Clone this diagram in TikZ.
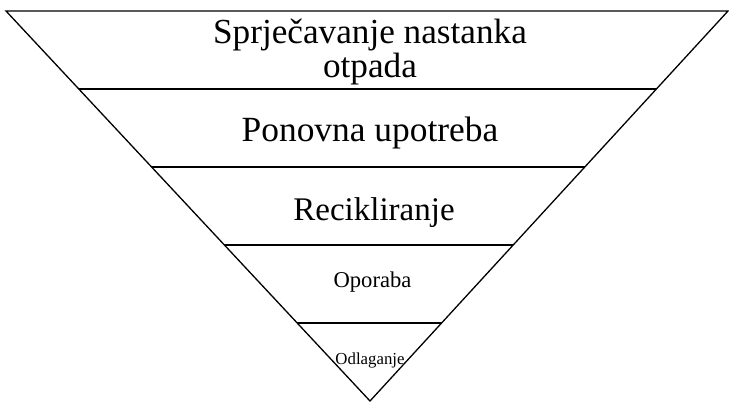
\documentclass[tikz,border=0pt]{standalone}
\usepackage{fontspec}
\setmainfont{Liberation Serif}
\usetikzlibrary{calc}
\begin{document}
\begin{tikzpicture}[x=1pt,y=-1pt,
    edge/.style={black, line width=1.3pt},
    lbl/.style={inner sep=0pt, align=center}]
    \useasboundingbox (0,0) rectangle (729,402);
    \coordinate (tl) at (6,11);
    \coordinate (tr) at (728,11);
    \coordinate (apex) at (370,401);
    \draw[edge, line join=miter] (tl) -- (tr) -- (apex) -- cycle;

%    layers of the pyramid
    \foreach \t in {0.2,0.4,0.6,0.8}
        \draw[edge] ($(tl)!\t!(apex)$) -- ($(tr)!\t!(apex)$);

\node[lbl, font=\fontsize{35.2}{33.5}\selectfont] (prevent) at (370,52) {Sprječavanje nastanka\\otpada};
\node[lbl, font=\fontsize{35.4}{38}\selectfont] (reuse) at (370,133) {Ponovna upotreba};
\node[lbl, font=\fontsize{33}{34}\selectfont] (recycle) at (374,213) {Recikliranje};
\node[lbl, font=\fontsize{22.6}{26}\selectfont] (recover) at (372.5,282) {Oporaba};
\node[lbl, font=\fontsize{16.8}{18}\selectfont] (dispose) at (370,360) {Odlaganje};

\end{tikzpicture}
\end{document}
